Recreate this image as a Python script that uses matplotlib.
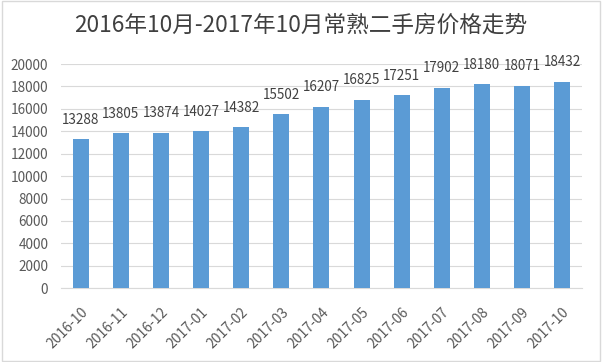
import matplotlib.pyplot as plt
import matplotlib.patches as patches

plt.rcParams['font.family'] = ['Noto Sans CJK SC', 'DejaVu Sans']

months = ['2016-10', '2016-11', '2016-12', '2017-01', '2017-02', '2017-03', '2017-04',
          '2017-05', '2017-06', '2017-07', '2017-08', '2017-09', '2017-10']
prices = [13288, 13805, 13874, 14027, 14382, 15502, 16207, 16825, 17251, 17902, 18180, 18071, 18432]
yticks = [0, 2000, 4000, 6000, 8000, 10000, 12000, 14000, 16000, 18000, 20000]

fig = plt.figure(figsize=(6.02, 3.62), dpi=100)
ax = fig.add_axes([0.101, 0.204, 0.866, 0.619])

x = range(len(months))
ax.bar(x, prices, width=0.4, color='#5B9BD5', zorder=3)
for i, v in enumerate(prices):
    ax.text(i, v + 1100, str(v), ha='center', va='bottom', fontsize=9.7, color='#404040')

ax.set_xlim(-0.5, len(months) - 0.5)
ax.set_ylim(0, 20000)
ax.set_yticks(yticks)
ax.set_yticklabels([str(t) for t in yticks], fontsize=9.8, color='#595959')
ax.set_xticks(list(x))
ax.set_xticklabels(months, rotation=45, ha='right', rotation_mode='anchor', fontsize=10, color='#595959')
ax.tick_params(axis='y', length=0, pad=9)
ax.tick_params(axis='x', length=0, pad=12)
ax.grid(axis='y', color='#D9D9D9', lw=0.8, zorder=0)
for s in ['top', 'right', 'left']:
    ax.spines[s].set_visible(False)
ax.spines['bottom'].set_color('#D9D9D9')

fig.text(0.5, 0.93, '2016年10月-2017年10月常熟二手房价格走势', ha='center', va='center',
         fontsize=16.3, color='#404040')
fig.patches.append(patches.Rectangle((0.003, 0.004), 0.994, 0.992, transform=fig.transFigure,
                                     fill=False, edgecolor='#D9D9D9', lw=1))

fig.savefig('out.png', dpi=100)
